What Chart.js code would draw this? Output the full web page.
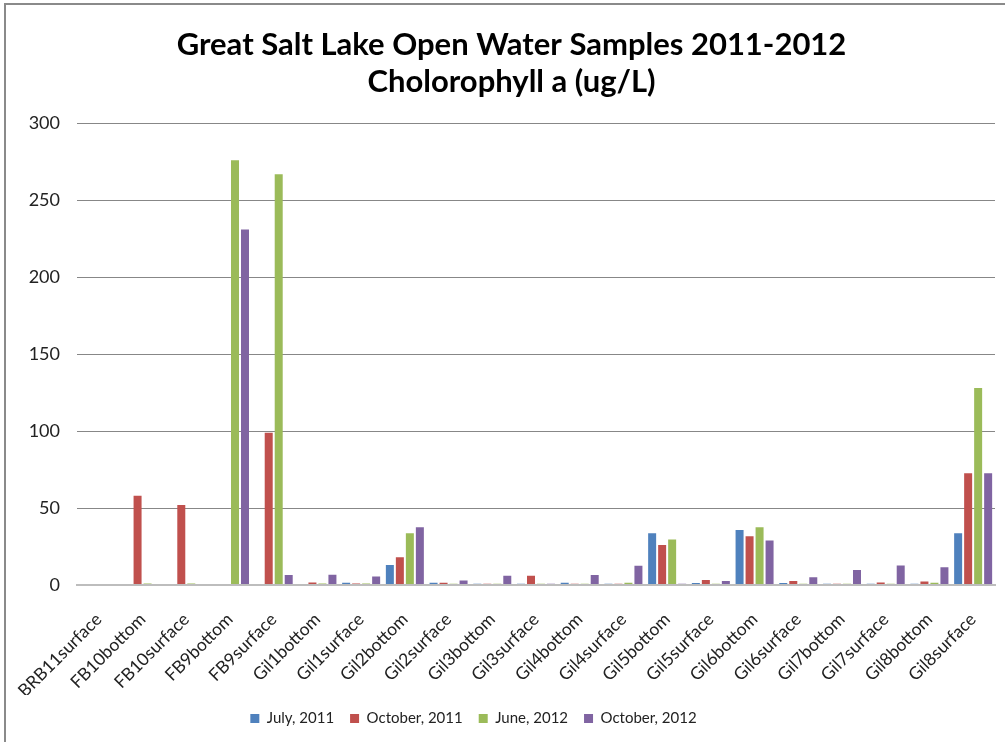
<!DOCTYPE html>
<html>
<head>
<meta charset="utf-8">
<script src="https://cdn.jsdelivr.net/npm/chart.js@4"></script>
<style>
  html, body { margin: 0; padding: 0; background: #fff; }
  #wrap { position: relative; width: 1005px; height: 742px; }
</style>
</head>
<body>
<div id="wrap"><canvas id="c" width="1005" height="742"></canvas></div>
<script>
const categories = ["BRB11surface","FB10bottom","FB10surface","FB9bottom","FB9surface",
  "Gil1bottom","Gil1surface","Gil2bottom","Gil2surface","Gil3bottom","Gil3surface",
  "Gil4bottom","Gil4surface","Gil5bottom","Gil5surface","Gil6bottom","Gil6surface",
  "Gil7bottom","Gil7surface","Gil8bottom","Gil8surface"];
const seriesNames = ["July, 2011","October, 2011","June, 2012","October, 2012"];
const july2011 = [null,null,null,null,null, 0.7,1.5,13,1.5,0.8,0.8, 1.5,0.8,33.6,1.3,35.8,1.3, 0.8,0.8,0.8,33.6];
const oct2011  = [null,58,52,null,99, 1.6,1,18,1.5,0.8,6, 0.8,0.8,26,3.2,31.7,2.6, 0.8,1.7,2.2,72.7];
const june2012 = [null,1,1,276,267, 1,1,33.6,0.8,0.8,0.8, 0.8,1.5,29.5,0.8,37.5,0.8, 0.8,0.8,1.5,128];
const oct2012  = [null,null,null,231,6.5, 6.7,5.6,37.5,3,6,0.8, 6.5,12.5,0.8,2.6,28.9,5, 9.8,12.6,11.5,72.7];
const yTicks = [0,50,100,150,200,250,300];
const colors = ["#4F81BD","#C0504D","#9BBB59","#8064A2"];
const titleLines = ["Great Salt Lake Open Water Samples 2011-2012","Cholorophyll a (ug/L)"];

const FONT = "Lato, 'Liberation Sans', sans-serif";
const frame = {
  id: 'frame',
  afterLayout(chart) {
    // Excel centres the title over the whole frame and the legend a bit left of centre
    const lg = chart.legend;
    if (lg) { lg.left -= 24; lg.right -= 24; }
    const tb = chart.titleBlock;
    if (tb) { tb.left += 14; tb.right += 14; }
  },
  afterDraw(chart) {
    const ctx = chart.ctx;
    ctx.save();
    ctx.strokeStyle = '#8a8a8a';
    ctx.lineWidth = 2;
    ctx.beginPath();
    ctx.moveTo(5, 742); ctx.lineTo(5, 4); ctx.lineTo(1005, 4);
    ctx.stroke();
    ctx.restore();
  }
};

new Chart(document.getElementById('c'), {
  type: 'bar',
  data: {
    labels: categories,
    datasets: [july2011, oct2011, june2012, oct2012].map((d, i) => ({
      label: seriesNames[i], data: d, backgroundColor: colors[i],
      borderWidth: 0, barPercentage: 0.8, categoryPercentage: 0.915
    }))
  },
  options: {
    responsive: false,
    animation: false,
    layout: { padding: { left: 0, right: 10, top: 0, bottom: 6 } },
    plugins: {
      title: {
        display: true, text: titleLines, color: '#000',
        font: { family: FONT, size: 31, weight: 'bold', lineHeight: 1.2 },
        padding: { top: 26, bottom: 23 }
      },
      legend: {
        position: 'bottom',
        labels: { color: '#222', font: { family: FONT, size: 15 }, boxWidth: 9, boxHeight: 9, padding: 16 }
      },
      tooltip: { enabled: false }
    },
    scales: {
      x: {
        grid: { display: false, drawTicks: false },
        border: { display: true, color: '#bdbdbd', width: 2 },
        ticks: { color: '#222', font: { family: FONT, size: 17.5 }, maxRotation: 45, minRotation: 45, padding: 24, autoSkip: false },
        afterFit(s) { s.height = 110; s.paddingLeft = 0; s.paddingRight = 0; }
      },
      y: {
        min: 0, max: 300,
        afterBuildTicks(s) { s.ticks = yTicks.map(v => ({ value: v })); },
        grid: { color: ctx => ctx.tick && ctx.tick.value === 0 ? '#bdbdbd' : '#878787', lineWidth: ctx => ctx.tick && ctx.tick.value === 0 ? 2 : 1, drawTicks: false },
        border: { display: false },
        ticks: { color: '#222', font: { family: FONT, size: 18 }, padding: 17 },
        afterFit(s) { s.width = 77; }
      }
    }
  },
  plugins: [frame]
});
</script>
</body>
</html>
